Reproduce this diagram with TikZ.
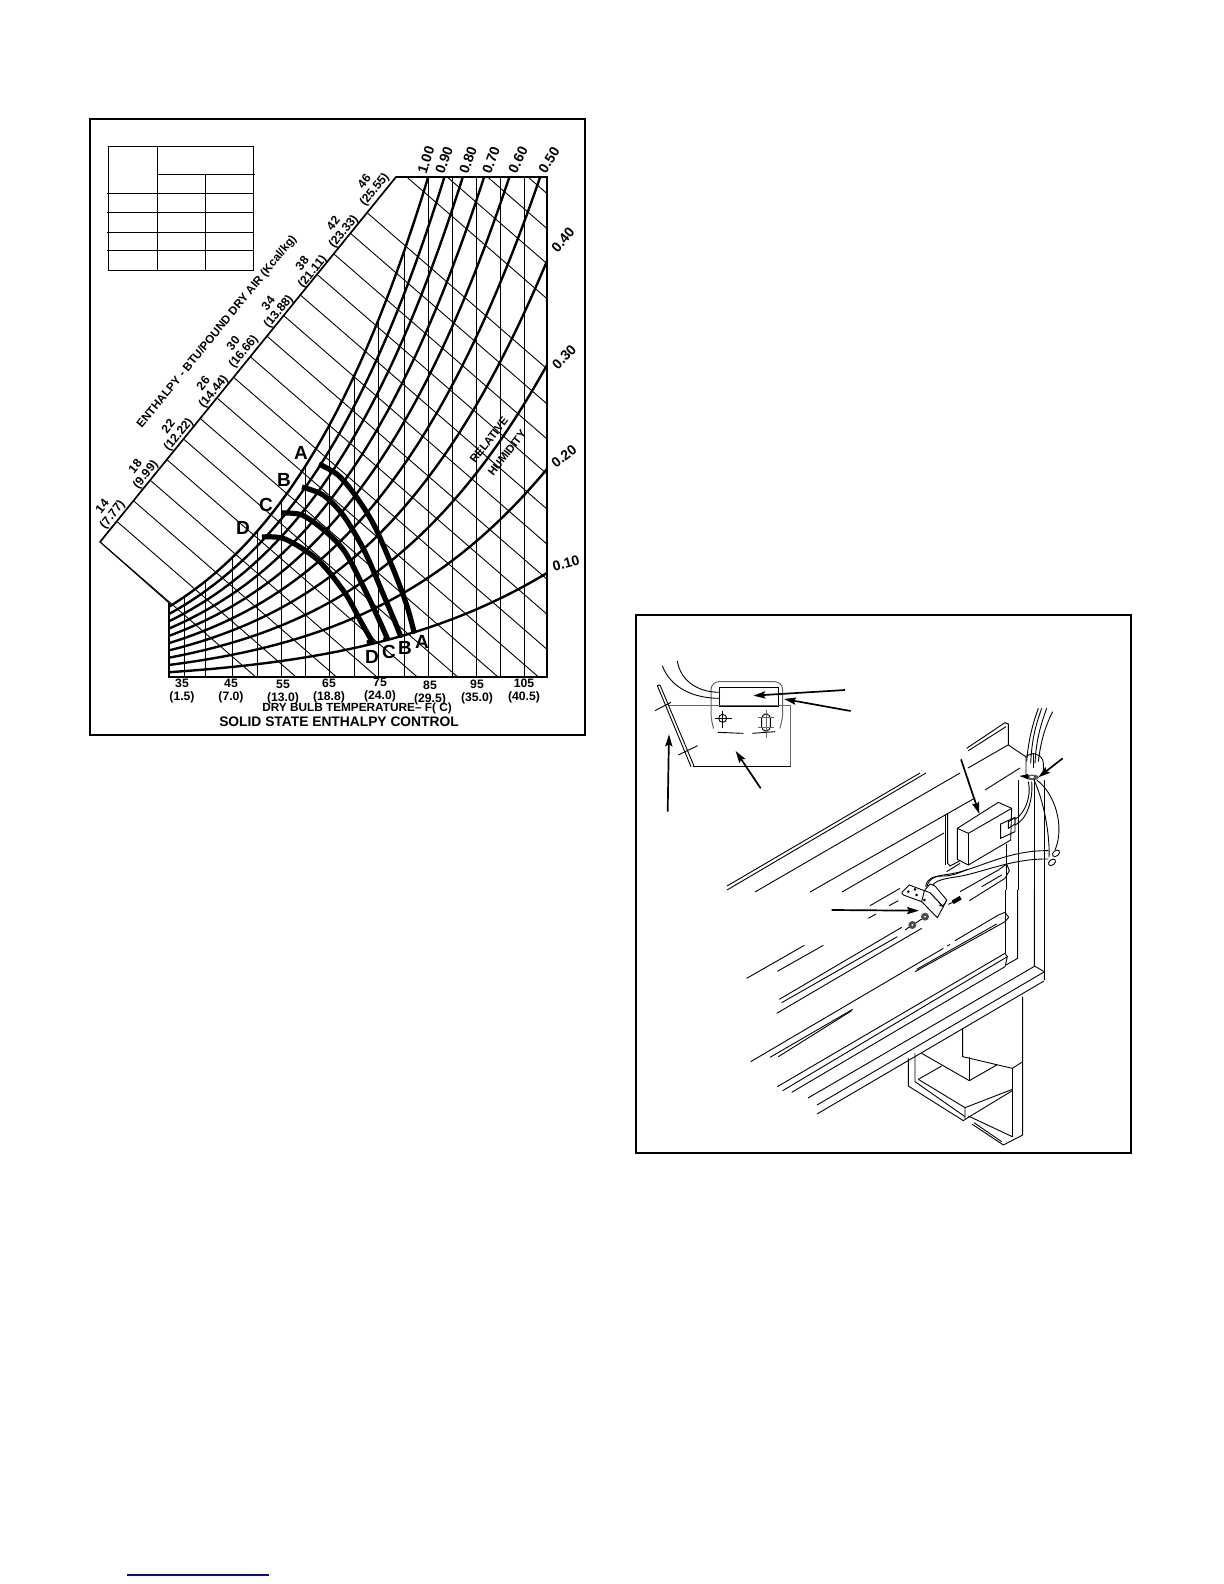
\documentclass[tikz,border=0pt]{standalone}
\usepackage{fontspec}
\setmainfont{Liberation Sans}
\usetikzlibrary{arrows.meta}
\definecolor{linknavy}{RGB}{10,10,140}
\tikzset{
  frameline/.style={line width=0.9pt,draw=black},
  axisline/.style={line width=0.85pt,line cap=round},
  thin line/.style={line width=0.45pt},
  rhcurve/.style={line width=1.2pt},
  limitcurve/.style={line width=2.6pt},
  tableline/.style={line width=0.45pt},
  ticklabel/.style={font=\fontsize{6.1}{6.4}\selectfont\bfseries,align=center,inner sep=0pt},
  rhlabel/.style={font=\fontsize{7}{8}\selectfont\bfseries,inner sep=0pt},
  lettermark/.style={font=\fontsize{9.5}{10}\selectfont\bfseries,inner sep=0pt},
  mech/.style={line width=0.45pt},
  mechgray/.style={line width=0.5pt,draw=black!60},
  leader/.style={line width=0.85pt,-{Stealth[length=6pt,width=3.6pt,inset=1pt]}},
  zfive/.style={shift={(635,615)},scale=0.33333},
  zsix/.style={shift={(900,700)},scale=0.33333},
  zseven/.style={shift={(720,840)},scale=0.33333},
  zten/.style={shift={(880,850)},scale=0.33333},
  zeleven/.style={shift={(980,880)},scale=0.33333},
}
\begin{document}
\begin{tikzpicture}[x=0.5pt,y=-0.5pt]
\useasboundingbox (0,0) rectangle (1224,1584);
\fill[white] (0,0) rectangle (1224,1584);

% ---------- left chart ----------
\draw[frameline] (90,119) rectangle (585,735);
% table
\draw[tableline] (108,146) rectangle (253,270);
\draw[tableline] (157,146) -- (157,270);
\draw[tableline] (205,174) -- (205,270);
\draw[tableline] (157,174) -- (255,174);
\foreach \yy in {193,212,232,250} \draw[tableline] (107,\yy) -- (253,\yy);

% enthalpy lines
\foreach \k in {0,...,16,18,19,20,21}{
  \pgfmathsetmacro{\cc}{455-35.06*\k}
  \pgfmathsetmacro{\xa}{\k<17 ? (665-\cc)/2.101 : (177-\cc)/0.868}
  \pgfmathsetmacro{\ya}{\k<17 ? \cc+0.868*\xa : 177}
  \pgfmathsetmacro{\xb}{min(547,(677-\cc)/0.868)}
  \pgfmathsetmacro{\yb}{\cc+0.868*\xb}
  \draw[thin line] (\xa,\ya) -- (\xb,\yb);
}
% dry-bulb verticals
\foreach \xx in {184,205,232,257,281,305,329,354,378,404,428,452,476,500,524}{
  \pgfmathsetmacro{\dd}{(547-\xx)/100}
  \pgfmathsetmacro{\yt}{max(177,677-1040*exp(-0.575*\dd-0.034*\dd*\dd)+0.66*\dd)}
  \draw[thin line] (\xx,677) -- (\xx,\yt);
}
% humidity curves
\begin{scope}
\clip (169,177) rectangle (547,677);
\foreach \p in {0.1,0.2,0.3,0.4,0.5,0.6,0.7,0.8,0.9,1.0}{
  \draw[rhcurve] plot[domain=169:547,samples=70,smooth]
    (\x,{677-1040*\p*exp(-0.575*(547-\x)/100-0.034*((547-\x)/100)*((547-\x)/100))+0.66*(547-\x)/100});
}
\end{scope}
% limit curves
\draw[limitcurve] plot[smooth] coordinates {(319,464)(338,475)(355,495)(374,525)(394,571)(407,606)(414,632)};
\draw[limitcurve] plot[smooth] coordinates {(302,487)(323,495)(343,515)(364,550)(384,596)(395,622)(401,637)};
\draw[limitcurve] plot[smooth] coordinates {(282,513)(302,515)(325,531)(345,552)(365,590)(380,622)(388,640)};
\draw[limitcurve] plot[smooth] coordinates {(262,537)(285,539)(318,560)(345,593)(360,620)(373,643)};
% axes
\draw[axisline] (396,177) -- (547,177) -- (547,677) -- (169,677) -- (169,603);
\draw[axisline] (100,542) -- (396,177);
\draw[thin line] (100,542) -- (169,603);

% enthalpy labels
\foreach \a/\b/\xx/\yy in {14/(7.77)/108/511,18/(9.99)/141/471,22/(12.22)/174/431,26/(14.44)/209/388,
   30/(16.66)/239/348,34/(13.88)/274/308,38/(21.11)/308/268,42/(23.33)/339/228,46/(25.55)/370/186}
  \node[ticklabel,rotate=51] (en\a) at (\xx,\yy) {\a\\\b};
\node[font=\fontsize{5.8}{7}\selectfont\bfseries,inner sep=0pt,rotate=50.7] (enthalpy) at (217,332) {ENTHALPY - BTU/POUND DRY AIR (Kcal/kg)};
% humidity labels
\foreach \t/\xx/\yy/\r in {1.00/426/160/72,0.90/444/160/70,0.80/468/160/70,0.70/491/160/70,0.60/518/160/64,0.50/549/160/58,
   0.40/563/240/50,0.30/564/357/45,0.20/564/456/38,0.10/566/563/15}
  \node[rhlabel,rotate=\r] (rh\t) at (\xx,\yy) {\t};
\node[font=\fontsize{5.6}{7}\selectfont\bfseries,inner sep=0pt,rotate=52] (relative) at (489,440) {RELATIVE};
\node[font=\fontsize{5.6}{7}\selectfont\bfseries,inner sep=0pt,rotate=52] (humidity) at (507,453) {HUMIDITY};
% temperature labels
\foreach \a/\b/\xx/\yy in {35/(1.5)/182/691,45/(7.0)/231/691,55/(13.0)/283/692,65/(18.8)/329/691,
   75/(24.0)/380/690,85/(29.5)/430/693,95/(35.0)/477/692,105/(40.5)/524/691}
  \node[ticklabel] (temp\a) at (\xx,\yy) {\a\\\b};
\node[font=\fontsize{5.9}{7}\selectfont\bfseries,inner sep=0pt] (drybulb) at (357,708) {DRY BULB TEMPERATURE– F( C)};
\node[font=\fontsize{6.9}{8}\selectfont\bfseries,inner sep=0pt] (title) at (339,722) {SOLID STATE ENTHALPY CONTROL};
% letters
\foreach \n/\t/\xx/\yy in {a/A/301/453,b/B/284/480,c/C/266/505,d/D/243/528,e/A/422/642,f/B/405/648,g/C/389/652,h/D/372/657}
  \node[lettermark] (mark\n) at (\xx,\yy) {\t};
\fill (369,642) circle (2.6);
\fill (385,639) circle (2);
\fill (401,636) circle (2);
\fill (414,632) circle (2);

% ---------- right drawing ----------
\draw[frameline] (636,615) rectangle (1131,1153);

% detail inset
\begin{scope}[zfive]
\draw[mechgray,rounded corners=4pt] (236,340) -- (228,318) -- (228,200) -- (443,200) -- (443,318) -- (434,340);
\draw[line width=0.6pt] (253,217) rectangle (430,273);
\draw[mechgray] (100,272) -- (467,272) -- (467,453);
\draw[line width=0.6pt] (175,454) -- (467,454);
\draw[mech] (67,212) -- (168,455);
\draw[mech] (75,210) -- (177,453);
\draw[mech] (67,212) -- (75,210);
\draw[mech] (60,287) -- (108,262);
\draw[mech] (130,420) -- (188,392);
\draw[mech] (248,352) -- (325,355);
\draw[mech] (352,355) -- (420,350);
\draw[mech] (263,310) circle (12);
\draw[mech] (240,310) -- (290,310);
\draw[mech] (263,288) -- (263,340);
\draw[mech,rounded corners=2.2pt] (380,297) rectangle (406,348);
\draw[mechgray] (370,338) -- (418,338);
\draw[mechgray] (370,306) -- (418,306);
\draw[mechgray] (393,285) -- (393,368);
\draw[mech] (82,152) .. controls (105,215) and (170,250) .. (255,250);
\draw[mech] (127,138) .. controls (135,190) and (180,232) .. (255,232);
\coordinate (la1) at (630,225); \coordinate (lb1) at (355,242);
\coordinate (la2) at (647,288); \coordinate (lb2) at (447,252);
\coordinate (la3) at (377,520); \coordinate (lb3) at (302,408);
\coordinate (la4) at (98,590);  \coordinate (lb4) at (102,358);
\draw[leader] (la1) -- (lb1);
\draw[leader] (la2) -- (lb2);
\draw[leader] (la3) -- (lb3);
\draw[leader] (la4) -- (lb4);
\end{scope}

% long panel lines
\draw[mech] (727,886) -- (920,773);
\draw[mech] (727,890) -- (926,773);
\draw[mech] (755,892) -- (960,773);
\draw[mech] (968,768) -- (1008,745);
\draw[mech] (810,892) -- (975,798);
\draw[mech] (985,790) -- (1020,768);
\draw[mech] (842,892) -- (944,833);

% upper part with box, clip and wires
\begin{scope}[zsix]
\draw[mech] (200,145) -- (315,68) -- (325,72) -- (325,135) -- (380,172);
\draw[mech] (205,152) -- (318,80);
\draw[mech] (135,345) -- (135,495);
\draw[mech] (143,340) -- (143,490) -- (150,498) -- (180,482);
\draw[mech,fill=white] (172,385) -- (295,307) -- (335,325) -- (332,420) -- (205,495) -- (172,478) -- cycle;
\draw[mech] (172,385) -- (205,400) -- (335,325);
\draw[mech] (205,400) -- (205,495);
\draw[mech] (302,372) -- (345,352) -- (345,395) -- (302,415) -- cycle;
\draw[mech] (325,365) -- (345,353) -- (345,372) -- (325,385) -- cycle;
\draw[mech] (345,358) .. controls (375,340) and (395,290) .. (385,245);
\draw[mech] (345,375) .. controls (380,360) and (400,300) .. (395,245);
% vertical tube and wire bundle
\draw[mech] (378,225) -- (378,168) -- (400,160) .. controls (420,165) and (430,175) .. (430,190) -- (430,225);
\draw[mech] (400,160) -- (400,205);
\draw[mech] (415,25) .. controls (395,80) and (385,125) .. (380,185);
\draw[mech] (425,25) .. controls (405,80) and (395,125) .. (392,190);
\draw[mech] (440,25) .. controls (420,80) and (408,125) .. (405,190);
\draw[mech] (458,35) .. controls (435,80) and (422,125) .. (415,185);
\fill[black!65] (397,232) ellipse (20 and 8);
\fill[white] (395,231) ellipse (7 and 3);
\fill (358,228) -- (385,222) -- (385,238) -- cycle;
\draw[mech] (356,240) -- (356,570);
\draw[mech] (403,238) -- (403,570);
\draw[mech] (432,240) -- (432,570);
\draw[mech] (318,432) -- (318,570);
\draw[mech] (410,240) .. controls (465,280) and (495,380) .. (465,450);
\draw[mech] (402,240) .. controls (430,300) and (450,400) .. (447,472);
\draw[mech,rotate around={40:(468,460)}] (468,460) ellipse (12 and 8);
\draw[mech,rotate around={40:(456,487)}] (456,487) ellipse (12 and 8);
\draw[mech] (80,560) .. controls (90,530) and (110,528) .. (150,522) .. controls (230,510) and (320,450) .. (445,452);
\draw[mech] (92,565) .. controls (100,545) and (120,538) .. (160,532) .. controls (240,522) and (330,475) .. (445,477);
\draw[mech] (140,515) -- (180,490);
\coordinate (lc1) at (183,178); \coordinate (ld1) at (238,342);
\coordinate (lc2) at (488,175); \coordinate (ld2) at (415,232);
\draw[leader] (lc1) -- (ld1);
\draw[leader] (lc2) -- (ld2);
\end{scope}

% lower panel rails
\begin{scope}[zseven]
\draw[mech] (450,197) -- (540,145);
\draw[mech] (507,197) -- (535,182);
\draw[mech] (445,235) -- (468,222);
\draw[mech] (720,155) -- (835,90) -- (860,72) -- (868,92) -- (855,115) -- (748,182);
\draw[mech] (785,140) -- (845,105);
\draw[mech] (80,415) -- (253,316);
\draw[mech] (172,394) -- (310,316);
\draw[mech] (178,478) -- (545,262);
\draw[mech] (185,488) -- (532,290);
\draw[mech] (170,520) -- (605,265);
\draw[mech] (92,665) -- (670,325);
\draw[mech] (682,318) -- (690,313);
\draw[mech] (705,302) -- (835,225) -- (855,217) -- (866,232) -- (855,245) -- (585,395);
\draw[mech] (830,252) -- (590,388);
\draw[mech] (150,652) -- (398,508);
\draw[mech] (175,650) -- (395,512);
\draw[mech] (172,740) -- (855,340) -- (862,350);
\draw[mech] (188,752) -- (862,350) -- (855,380);
\draw[mech] (215,757) -- (855,380);
\draw[mech] (855,150) -- (855,340);
\draw[mech] (893,150) -- (893,355) -- (858,375);
% arrow at bracket
\coordinate (le1) at (335,210); \coordinate (lf1) at (597,212);
\draw[leader] (le1) -- (lf1);
% lower recess
\draw[mech] (565,655) -- (565,738) -- (730,842) -- (740,835) -- (877,752);
\draw[mech] (585,640) -- (585,725) -- (735,830);
\draw[mech] (595,718) -- (735,803) -- (735,838);
\draw[mech] (735,803) -- (877,748);
\draw[mech] (605,640) -- (748,722) -- (830,675);
\draw[mech] (595,718) -- (665,678);
\draw[mech] (728,565) -- (728,650) -- (877,685);
\draw[mech] (748,650) -- (748,722);
\draw[mech] (877,685) -- (877,890);
\draw[mech] (877,685) -- (908,665);
\draw[mech] (908,470) -- (908,885) -- (850,915) -- (757,853);
\draw[mech] (762,848) -- (845,905);
\draw[mech] (745,828) -- (877,890);
\end{scope}

% frame corner and long lower lines
\draw[mech] (808,1098) -- (1035,966);
\draw[mech] (817,1105) -- (1044,972);
\draw[mech] (817,1114) -- (1044,981);
\begin{scope}[zeleven]
\draw[mech] (163,30) -- (163,258) -- (193,275) -- (193,300);
\draw[mech] (193,30) -- (193,275);
\end{scope}

% bracket
\begin{scope}[zten]
\draw[mech] (65,128) -- (88,105) -- (133,122);
\draw[mech] (65,128) -- (70,135) -- (125,155) -- (133,122);
\draw[mech] (125,155) -- (172,203) -- (190,170) -- (150,128);
\draw[mech,fill=white] (133,122) -- (150,102) -- (165,108) -- (200,150) -- (190,170) -- (150,128) -- cycle;
\draw[mech] (200,150) .. controls (195,165) and (185,172) .. (178,165);
\draw[mech] (137,110) .. controls (140,85) and (160,78) .. (190,78) .. controls (215,78) and (240,68) .. (262,58);
\foreach \hx/\hy in {85/125,105/118,110/135,133/150}
  \draw[mech] (\hx,\hy) circle (2.5);
\draw[line width=2pt] (218,157) -- (242,143);
\draw[mech] (205,163) -- (218,157);
\fill[black!70] (135,200) circle (12);
\fill[white] (135,200) circle (3);
\fill[black!70] (97,225) circle (12);
\fill[white] (97,225) circle (3);
\draw[mech] (75,240) -- (88,231);
\draw[mech] (107,219) -- (125,207);
\end{scope}

% footer rule
\draw[linknavy,line width=0.6pt] (127,1575) -- (269,1575);
\end{tikzpicture}
\end{document}
